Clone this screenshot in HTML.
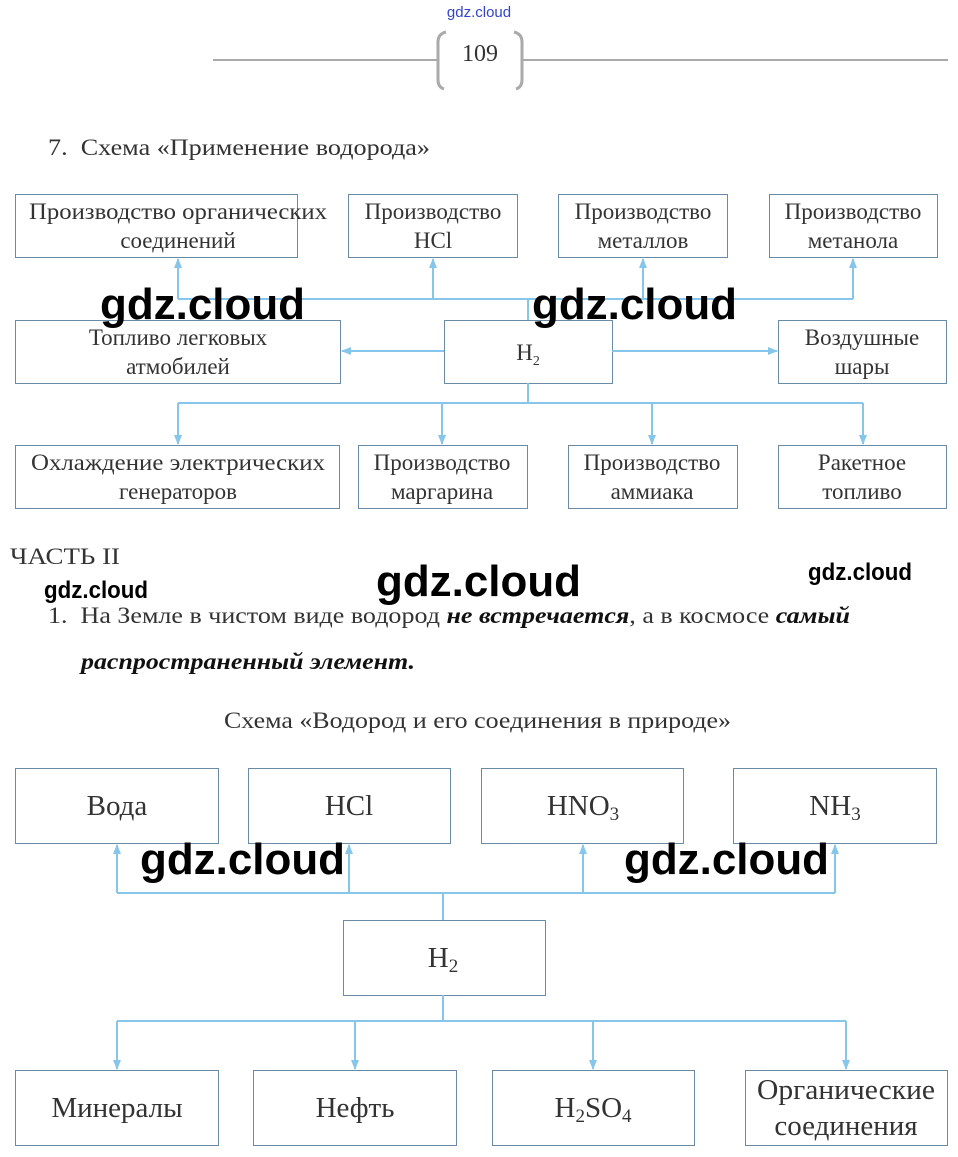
<!DOCTYPE html>
<html><head><meta charset="utf-8"><style>
html,body{margin:0;padding:0;background:#fff;}
svg{display:block;}
.t{font-family:"Liberation Serif",serif;fill:#333;}
.w{font-family:"Liberation Sans",sans-serif;fill:#000;font-weight:bold;}
</style></head><body>
<svg width="958" height="1157" viewBox="0 0 958 1157" xmlns="http://www.w3.org/2000/svg">
<defs>
<marker id="a" markerWidth="10" markerHeight="10" refX="9" refY="5" orient="auto" markerUnits="userSpaceOnUse"><path d="M0,1 L10,5 L0,9 z" fill="#86c6ea"/></marker>
</defs>
<text x="479" y="17" font-family="Liberation Sans,sans-serif" font-size="15" fill="#3344cc" text-anchor="middle">gdz.cloud</text>
<line x1="213" y1="60" x2="437" y2="60" stroke="#aaa" stroke-width="2"/>
<line x1="523" y1="60" x2="948" y2="60" stroke="#aaa" stroke-width="2"/>
<path d="M446,32 Q438,34 438,42 L438,80 Q438,87 444,89" fill="none" stroke="#aaa" stroke-width="3"/>
<path d="M514,32 Q522,34 522,42 L522,80 Q522,87 516,89" fill="none" stroke="#aaa" stroke-width="3"/>
<text x="480" y="61" class="t" font-size="24" text-anchor="middle">109</text>
<text x="48" y="155" class="t" font-size="23" textLength="382" lengthAdjust="spacingAndGlyphs">7.&#160;&#160;Схема «Применение водорода»</text>

<g fill="#fff" stroke="#6a8aa6" stroke-width="1">
<rect x="15.5" y="194.5" width="282" height="63"/><rect x="348.5" y="194.5" width="169" height="63"/>
<rect x="558.5" y="194.5" width="169" height="63"/><rect x="769.5" y="194.5" width="168" height="63"/>
<rect x="15.5" y="320.5" width="325" height="63"/><rect x="444.5" y="320.5" width="168" height="63"/>
<rect x="778.5" y="320.5" width="168" height="63"/>
<rect x="15.5" y="445.5" width="324" height="63"/><rect x="358.5" y="445.5" width="169" height="63"/>
<rect x="568.5" y="445.5" width="169" height="63"/><rect x="778.5" y="445.5" width="168" height="63"/>
</g>
<g stroke="#86c6ea" stroke-width="2" fill="none">
<path d="M528,320 V299 M178,299 H853"/>
<line x1="178" y1="299" x2="178" y2="259" marker-end="url(#a)"/>
<line x1="433" y1="299" x2="433" y2="259" marker-end="url(#a)"/>
<line x1="643" y1="299" x2="643" y2="259" marker-end="url(#a)"/>
<line x1="853" y1="299" x2="853" y2="259" marker-end="url(#a)"/>
<line x1="444" y1="351" x2="342" y2="351" marker-end="url(#a)"/>
<line x1="612" y1="351" x2="777" y2="351" marker-end="url(#a)"/>
<path d="M528,383 V403 M178,403 H863"/>
<line x1="178" y1="403" x2="178" y2="444" marker-end="url(#a)"/>
<line x1="442" y1="403" x2="442" y2="444" marker-end="url(#a)"/>
<line x1="652" y1="403" x2="652" y2="444" marker-end="url(#a)"/>
<line x1="863" y1="403" x2="863" y2="444" marker-end="url(#a)"/>
</g>
<g class="t" font-size="23" text-anchor="middle">
<text x="178" y="219" textLength="298" lengthAdjust="spacingAndGlyphs">Производство органических</text><text x="178" y="248">соединений</text>
<text x="433" y="219">Производство</text><text x="433" y="248">HCl</text>
<text x="643" y="219">Производство</text><text x="643" y="248">металлов</text>
<text x="853" y="219">Производство</text><text x="853" y="248">метанола</text>
<text x="178" y="345">Топливо легковых</text><text x="178" y="374">атмобилей</text>
<text x="528" y="360">H<tspan font-size="14" dy="5">2</tspan></text>
<text x="862" y="345">Воздушные</text><text x="862" y="374">шары</text>
<text x="178" y="470" textLength="294" lengthAdjust="spacingAndGlyphs">Охлаждение электрических</text><text x="178" y="499">генераторов</text>
<text x="442" y="470">Производство</text><text x="442" y="499">маргарина</text>
<text x="652" y="470">Производство</text><text x="652" y="499">аммиака</text>
<text x="862" y="470">Ракетное</text><text x="862" y="499">топливо</text>
</g>

<text x="10" y="564" class="t" font-size="23" textLength="110" lengthAdjust="spacingAndGlyphs">ЧАСТЬ II</text>
<text x="48" y="623" class="t" font-size="23" textLength="802" lengthAdjust="spacingAndGlyphs">1.&#160;&#160;На Земле в чистом виде водород <tspan font-weight="bold" font-style="italic" fill="#111">не встречается</tspan>, а в космосе <tspan font-weight="bold" font-style="italic" fill="#111">самый</tspan></text>
<text x="81" y="669" class="t" font-size="23" font-weight="bold" font-style="italic" style="fill:#111" textLength="334" lengthAdjust="spacingAndGlyphs">распространенный элемент.</text>
<text x="224" y="728" class="t" font-size="23" textLength="507" lengthAdjust="spacingAndGlyphs">Схема «Водород и его соединения в природе»</text>

<g fill="#fff" stroke="#6a8aa6" stroke-width="1">
<rect x="15.5" y="768.5" width="203" height="75"/><rect x="248.5" y="768.5" width="202" height="75"/>
<rect x="481.5" y="768.5" width="202" height="75"/><rect x="733.5" y="768.5" width="203" height="75"/>
<rect x="343.5" y="920.5" width="202" height="75"/>
<rect x="15.5" y="1070.5" width="203" height="75"/><rect x="253.5" y="1070.5" width="203" height="75"/>
<rect x="492.5" y="1070.5" width="202" height="75"/><rect x="745.5" y="1070.5" width="202" height="75"/>
</g>
<g stroke="#86c6ea" stroke-width="2" fill="none">
<path d="M443,920 V893 M117,893 H835"/>
<line x1="117" y1="893" x2="117" y2="845" marker-end="url(#a)"/>
<line x1="349" y1="893" x2="349" y2="845" marker-end="url(#a)"/>
<line x1="583" y1="893" x2="583" y2="845" marker-end="url(#a)"/>
<line x1="835" y1="893" x2="835" y2="845" marker-end="url(#a)"/>
<path d="M443,995 V1021 M117,1021 H846"/>
<line x1="117" y1="1021" x2="117" y2="1069" marker-end="url(#a)"/>
<line x1="355" y1="1021" x2="355" y2="1069" marker-end="url(#a)"/>
<line x1="593" y1="1021" x2="593" y2="1069" marker-end="url(#a)"/>
<line x1="846" y1="1021" x2="846" y2="1069" marker-end="url(#a)"/>
</g>
<g class="t" font-size="29" text-anchor="middle">
<text x="117" y="815">Вода</text>
<text x="349" y="815">HCl</text>
<text x="583" y="815">HNO<tspan font-size="19" dy="5">3</tspan></text>
<text x="835" y="815">NH<tspan font-size="19" dy="5">3</tspan></text>
<text x="443" y="967">H<tspan font-size="19" dy="5">2</tspan></text>
<text x="117" y="1117">Минералы</text>
<text x="355" y="1117">Нефть</text>
<text x="593" y="1117">H<tspan font-size="19" dy="5">2</tspan><tspan dy="-5">SO</tspan><tspan font-size="19" dy="5">4</tspan></text>
<text x="846" y="1099" textLength="178" lengthAdjust="spacingAndGlyphs">Органические</text><text x="846" y="1135">соединения</text>
</g>

<g class="w" font-size="44">
<text x="100" y="319" textLength="205" lengthAdjust="spacingAndGlyphs">gdz.cloud</text>
<text x="532" y="319" textLength="205" lengthAdjust="spacingAndGlyphs">gdz.cloud</text>
<text x="376" y="596" textLength="205" lengthAdjust="spacingAndGlyphs">gdz.cloud</text>
<text x="140" y="874" textLength="205" lengthAdjust="spacingAndGlyphs">gdz.cloud</text>
<text x="624" y="874" textLength="205" lengthAdjust="spacingAndGlyphs">gdz.cloud</text>
</g>
<g class="w" font-size="24">
<text x="44" y="598" textLength="104" lengthAdjust="spacingAndGlyphs">gdz.cloud</text>
<text x="808" y="580" textLength="104" lengthAdjust="spacingAndGlyphs">gdz.cloud</text>
</g>
</svg>
</body></html>
